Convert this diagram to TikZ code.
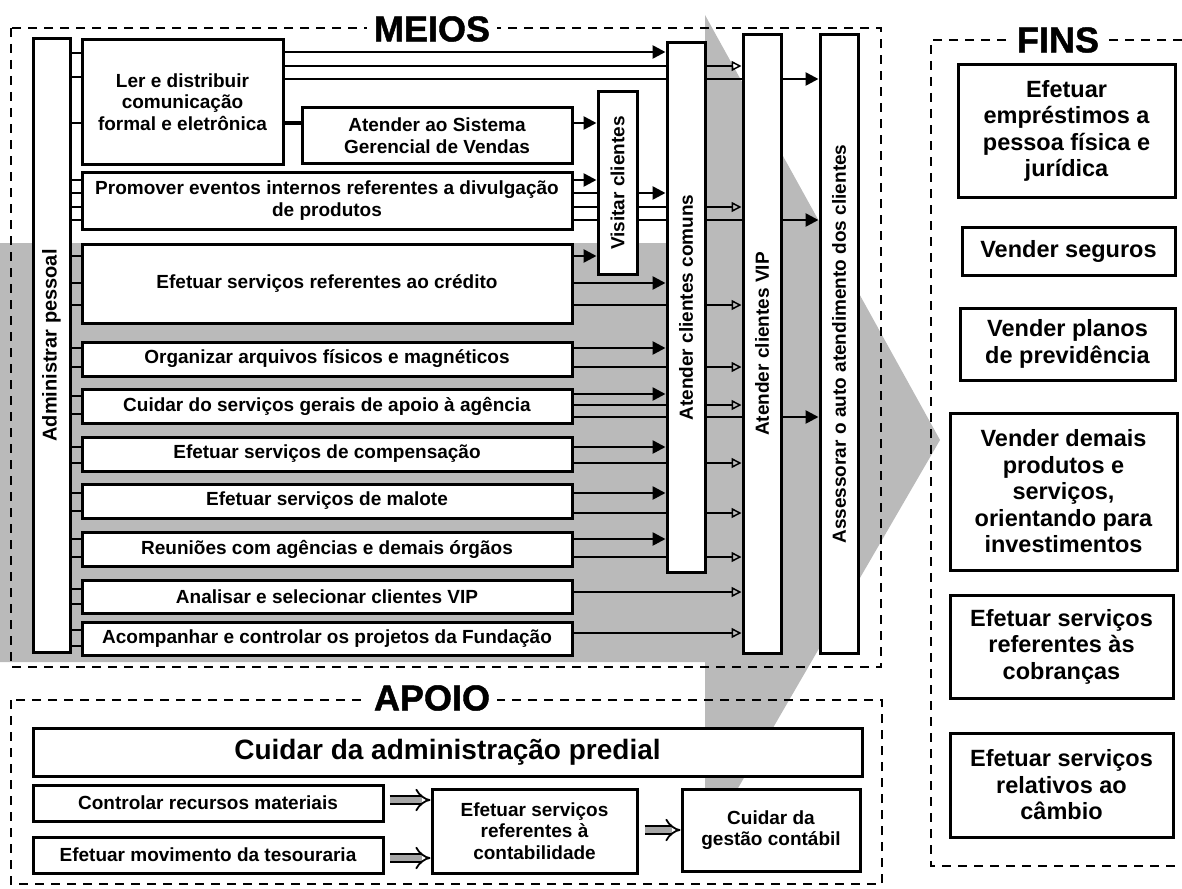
\documentclass[tikz,border=0pt]{standalone}
\usepackage{fontspec}
\setmainfont{Liberation Sans}
\newfontfamily\headfont{Liberation Sans Bold}[FakeBold=1.2]
\usepackage{graphicx}
\usetikzlibrary{arrows.meta}
\pgfdeclarelayer{shade}
\pgfdeclarelayer{wires}
\pgfsetlayers{shade,wires,main}

\begin{document}
\begin{tikzpicture}[x=1pt, y=-1pt,
  frame/.style={line width=2.6pt, dash pattern=on 9pt off 7pt},
  heading/.style={font=\fontsize{36}{38}\selectfont\headfont, fill=white, inner xsep=7pt, inner ysep=1pt},
  box/.style={draw, line width=3pt, fill=white, align=center, inner sep=2pt,
              font=\fontsize{19}{21.5}\selectfont\bfseries},
  finbox/.style={box, font=\fontsize{23.5}{26.5}\selectfont\bfseries},
  bigbox/.style={box, font=\fontsize{28}{30}\selectfont\bfseries},
  feed/.style={line width=2.6pt, -{Triangle[length=13pt, width=13pt]}},
  soft/.style={line width=1.5pt, -{Triangle[open, length=10pt, width=10pt]}},
  stub/.style={line width=2pt},
  link/.style={line width=3pt},
  hollow/.style={double=black!35, double distance=6pt, line width=1.8pt, -{Implies}},
]
\useasboundingbox (0,0) rectangle (1182,888);

% ---------- broad shaded arrow behind the activities ----------
\begin{pgfonlayer}{shade}
  \fill[black!27] (0,243) -- (705,243) -- (705,15) -- (940,440) -- (705,845)
                  -- (705,662) -- (0,662) -- cycle;
\end{pgfonlayer}

% ---------- frames and headings ----------
\draw[frame] (11,28) rectangle (881,667);
\draw[frame] (11,700) rectangle (882,884);
\draw[frame] (1182,40) -- (931,40) -- (931,866) -- (1182,866);
\node[heading] (meios) at (432,29) {MEIOS};
\node[heading] (apoio) at (432,698) {APOIO};
\node[heading] (fins)  at (1058,40) {FINS};

% ---------- MEIOS ----------
\node[box, minimum width=37pt, minimum height=613pt] (admin) at (51.5,345.5)
  {\rotatebox{90}{\fontsize{20}{22}\selectfont Administrar pessoal}};

\node[box, minimum width=201pt, minimum height=124pt] (ler) at (182.5,102)
  {Ler e distribuir\\comunicação\\formal e eletrônica};
\node[box, minimum width=270pt, minimum height=55pt] (sgv) at (437,135.5)
  {Atender ao Sistema\\Gerencial de Vendas};
\node[box, minimum width=490pt, minimum height=57pt] (promover) at (327,200.5)
  {Promover eventos internos referentes a divulgação\\de produtos};
\node[box, minimum width=490pt, minimum height=79pt] (credito) at (327,283.5)
  {Efetuar serviços referentes ao crédito};
\node[box, minimum width=490pt, minimum height=34pt] (arquivos) at (327,359)
  {Organizar arquivos físicos e magnéticos};
\node[box, minimum width=490pt, minimum height=34pt] (gerais) at (327,406)
  {Cuidar do serviços gerais de apoio à agência};
\node[box, minimum width=490pt, minimum height=34pt] (compensacao) at (327,454)
  {Efetuar serviços de compensação};
\node[box, minimum width=490pt, minimum height=34pt] (malote) at (327,501)
  {Efetuar serviços de malote};
\node[box, minimum width=490pt, minimum height=34pt] (reunioes) at (327,549)
  {Reuniões com agências e demais órgãos};
\node[box, minimum width=490pt, minimum height=33pt] (analisar) at (327,596.5)
  {Analisar e selecionar clientes VIP};
\node[box, minimum width=490pt, minimum height=33pt] (fundacao) at (327,638.5)
  {Acompanhar e controlar os projetos da Fundação};

\node[box, minimum width=39pt, minimum height=182pt] (visitar) at (617.5,183)
  {\rotatebox{90}{Visitar clientes}};
\node[box, minimum width=38pt, minimum height=529pt] (comuns) at (686,307.5)
  {\rotatebox{90}{Atender clientes comuns}};
\node[box, minimum width=38pt, minimum height=618pt] (vip) at (762,344)
  {\rotatebox{90}{Atender clientes VIP}};
\node[box, minimum width=38pt, minimum height=618pt] (auto) at (839,344)
  {\rotatebox{90}{Assessorar o auto atendimento dos clientes}};

% ---------- FINS ----------
\node[finbox, minimum width=217pt, minimum height=132pt] (emprestimos) at (1066.5,131)
  {Efetuar\\empréstimos a\\pessoa física e\\jurídica};
\node[finbox, minimum width=213pt, minimum height=48pt] (seguros) at (1068.5,251)
  {Vender seguros};
\node[finbox, minimum width=215pt, minimum height=72pt] (previdencia) at (1067.5,344)
  {Vender planos\\de previdência};
\node[finbox, minimum width=227pt, minimum height=157pt] (investimentos) at (1063.5,491.5)
  {Vender demais\\produtos e\\serviços,\\orientando para\\investimentos};
\node[finbox, minimum width=223pt, minimum height=103pt] (cobrancas) at (1061.5,646.5)
  {Efetuar serviços\\referentes às\\cobranças};
\node[finbox, minimum width=223pt, minimum height=104pt] (cambio) at (1061.5,785)
  {Efetuar serviços\\relativos ao\\câmbio};

% ---------- APOIO ----------
\node[bigbox, minimum width=829pt, minimum height=48pt] (predial) at (447.5,752)
  {Cuidar da administração predial};
\node[box, minimum width=350pt, minimum height=36pt] (materiais) at (208,803)
  {Controlar recursos materiais};
\node[box, minimum width=350pt, minimum height=36pt] (tesouraria) at (208,855)
  {Efetuar movimento da tesouraria};
\node[box, minimum width=205pt, minimum height=84pt] (contab) at (534.5,831)
  {Efetuar serviços\\referentes à\\contabilidade};
\node[box, minimum width=178pt, minimum height=82pt] (gestao) at (771,830)
  {Cuidar da\\gestão contábil};

% ---------- connectors ----------
\begin{pgfonlayer}{wires}
  % short ties from the staff column to every activity
  \foreach \n/\yy in {ler/53, ler/77, ler/123,
                      promover/180, promover/193, promover/207, promover/220,
                      credito/256, credito/283, credito/305,
                      arquivos/348, arquivos/367,
                      gerais/396, gerais/414,
                      compensacao/447, compensacao/463,
                      malote/493, malote/511,
                      reunioes/539, reunioes/557,
                      analisar/589, analisar/604,
                      fundacao/630, fundacao/646}
    \draw[stub] (admin.east |- 0,\yy) -- (\n.west |- 0,\yy);

  \draw[feed] (ler.east |- 0,52) -- (comuns.west |- 0,52);
  \draw[soft] (ler.east |- 0,66) -- (vip.west |- 0,66);
  \draw[feed] (ler.east |- 0,79) -- (auto.west |- 0,79);
  \draw[link] (ler.east |- 0,123) -- (sgv.west |- 0,123);
  \draw[feed] (sgv.east |- 0,123) -- (visitar.west |- 0,123);

  \draw[feed] (promover.east |- 0,180) -- (visitar.west |- 0,180);
  \draw[feed] (promover.east |- 0,193) -- (comuns.west |- 0,193);
  \draw[soft] (promover.east |- 0,207) -- (vip.west |- 0,207);
  \draw[feed] (promover.east |- 0,220) -- (auto.west |- 0,220);

  \draw[feed] (credito.east |- 0,256) -- (visitar.west |- 0,256);
  \draw[feed] (credito.east |- 0,283) -- (comuns.west |- 0,283);
  \draw[soft] (credito.east |- 0,305) -- (vip.west |- 0,305);

  \draw[feed] (arquivos.east |- 0,348) -- (comuns.west |- 0,348);
  \draw[soft] (arquivos.east |- 0,367) -- (vip.west |- 0,367);

  \draw[feed] (gerais.east |- 0,394) -- (comuns.west |- 0,394);
  \draw[soft] (gerais.east |- 0,405) -- (vip.west |- 0,405);
  \draw[feed] (gerais.east |- 0,417) -- (auto.west |- 0,417);

  \draw[feed] (compensacao.east |- 0,447) -- (comuns.west |- 0,447);
  \draw[soft] (compensacao.east |- 0,463) -- (vip.west |- 0,463);

  \draw[feed] (malote.east |- 0,493) -- (comuns.west |- 0,493);
  \draw[soft] (malote.east |- 0,513) -- (vip.west |- 0,513);

  \draw[feed] (reunioes.east |- 0,539) -- (comuns.west |- 0,539);
  \draw[soft] (reunioes.east |- 0,557) -- (vip.west |- 0,557);

  \draw[soft] (analisar.east |- 0,592) -- (vip.west |- 0,592);
  \draw[soft] (fundacao.east |- 0,633) -- (vip.west |- 0,633);
\end{pgfonlayer}

\draw[hollow, shorten <=5pt] (materiais.east |- 0,800) -- (contab.west |- 0,800);
\draw[hollow, shorten <=5pt] (tesouraria.east |- 0,858) -- (contab.west |- 0,858);
\draw[hollow, shorten <=6pt] (contab.east |- 0,830) -- (gestao.west |- 0,830);

\end{tikzpicture}
\end{document}
